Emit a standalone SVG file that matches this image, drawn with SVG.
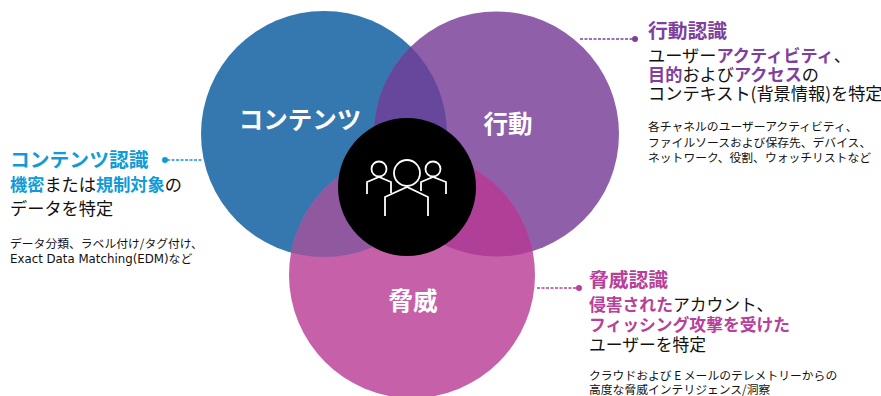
<svg xmlns="http://www.w3.org/2000/svg" width="881" height="396" viewBox="0 0 881 396">
<style>
text{font-family:"Noto Sans CJK JP","Noto Sans",sans-serif;fill:#111}
.h{font-size:19.8px;font-weight:500}
.m{font-size:17.2px}
.t{font-size:16.8px}
.s{font-size:11.8px}
.c{fill:#fff;font-size:24.5px;font-weight:700;text-anchor:middle}
.b{fill:#0f9bd7;font-weight:700}.p{fill:#7f3f9e;font-weight:700}.r{fill:#b8409b;font-weight:700}
.ic{fill:none;stroke:#fff;stroke-width:1.8}
.l{font-family:"DejaVu Sans",sans-serif}
</style>
<defs>
<clipPath id="cb"><circle cx="324" cy="134" r="123"/></clipPath>
<clipPath id="cp"><circle cx="496.5" cy="134" r="122.5"/></clipPath>
</defs>
<g id="circle-content"><circle cx="324" cy="134" r="123" fill="#3578b0"/></g>
<g id="circle-action"><circle cx="496.5" cy="134" r="122.5" fill="#8f5fa9"/></g>
<g id="circle-threat"><circle cx="412" cy="275" r="123" fill="#c661a9"/></g>
<g clip-path="url(#cb)"><circle cx="496.5" cy="134" r="122.5" fill="#67479b"/></g>
<g clip-path="url(#cb)"><circle cx="412" cy="275" r="123" fill="#90599f"/></g>
<g clip-path="url(#cp)"><circle cx="412" cy="275" r="123" fill="#b03f98"/></g>
<g id="center"><circle cx="407" cy="187" r="69" fill="#000"/>
<g class="ic"><circle cx="407" cy="173" r="13"/><circle cx="379" cy="169" r="7.5"/><circle cx="433" cy="169" r="7.5"/>
<path d="M385,216V197L407,187L428,197V216M367,194V182L379,177L391,182V193M446,194V182L433,177L421,182V191"/></g></g>
<g id="circle-labels"><text class="c" x="300" y="129">コンテンツ</text><text class="c" x="508" y="133">行動</text><text class="c" x="413" y="310">脅威</text></g>
<g id="connectors" fill="none" stroke-width="1.4" stroke-dasharray="3 1.5">
<path d="M580,39H632" stroke="#7f3f9e"/><path d="M167,160H203" stroke="#0f9bd7"/><path d="M537,288H577" stroke="#b8409b"/>
<circle cx="635" cy="39" r="3" fill="#7f3f9e" stroke="none"/><circle cx="165" cy="160" r="3" fill="#0f9bd7" stroke="none"/><circle cx="579" cy="288" r="3" fill="#b8409b" stroke="none"/>
</g>
<g id="label-action">
<text class="h p" x="648" y="38">行動認識</text>
<text class="m" x="648" y="62">ユーザー<tspan class="p">アクティビティ</tspan>、</text>
<text class="m" x="648" y="81"><tspan class="p">目的</tspan>および<tspan class="p">アクセス</tspan>の</text>
<text class="m" x="648" y="100">コンテキスト(背景情報)を特定</text>
<text class="s" x="648" y="131">各チャネルのユーザーアクティビティ、</text>
<text class="s" x="648" y="147">ファイルソースおよび保存先、デバイス、</text>
<text class="s" x="648" y="162">ネットワーク、役割、ウォッチリストなど</text>
</g>
<g id="label-content">
<text class="h b" x="10" y="167">コンテンツ認識</text>
<text class="m" x="10" y="191"><tspan class="b">機密</tspan>または<tspan class="b">規制対象</tspan>の</text>
<text class="m" x="10" y="215">データを特定</text>
<text class="s" x="10" y="248">データ分類、ラベル付け/タグ付け、</text>
<text class="s" x="10" y="263"><tspan class="l">Exact Data Matching(EDM)</tspan>など</text>
</g>
<g id="label-threat">
<text class="h r" x="589" y="287">脅威認識</text>
<text class="t" x="589" y="311"><tspan class="r">侵害された</tspan>アカウント、</text>
<text class="t r" x="589" y="331">フィッシング攻撃を受けた</text>
<text class="t" x="589" y="351">ユーザーを特定</text>
<text class="s" x="589" y="380">クラウドおよび E メールのテレメトリーからの</text>
<text class="s" x="589" y="394">高度な脅威インテリジェンス/洞察</text>
</g>
</svg>
